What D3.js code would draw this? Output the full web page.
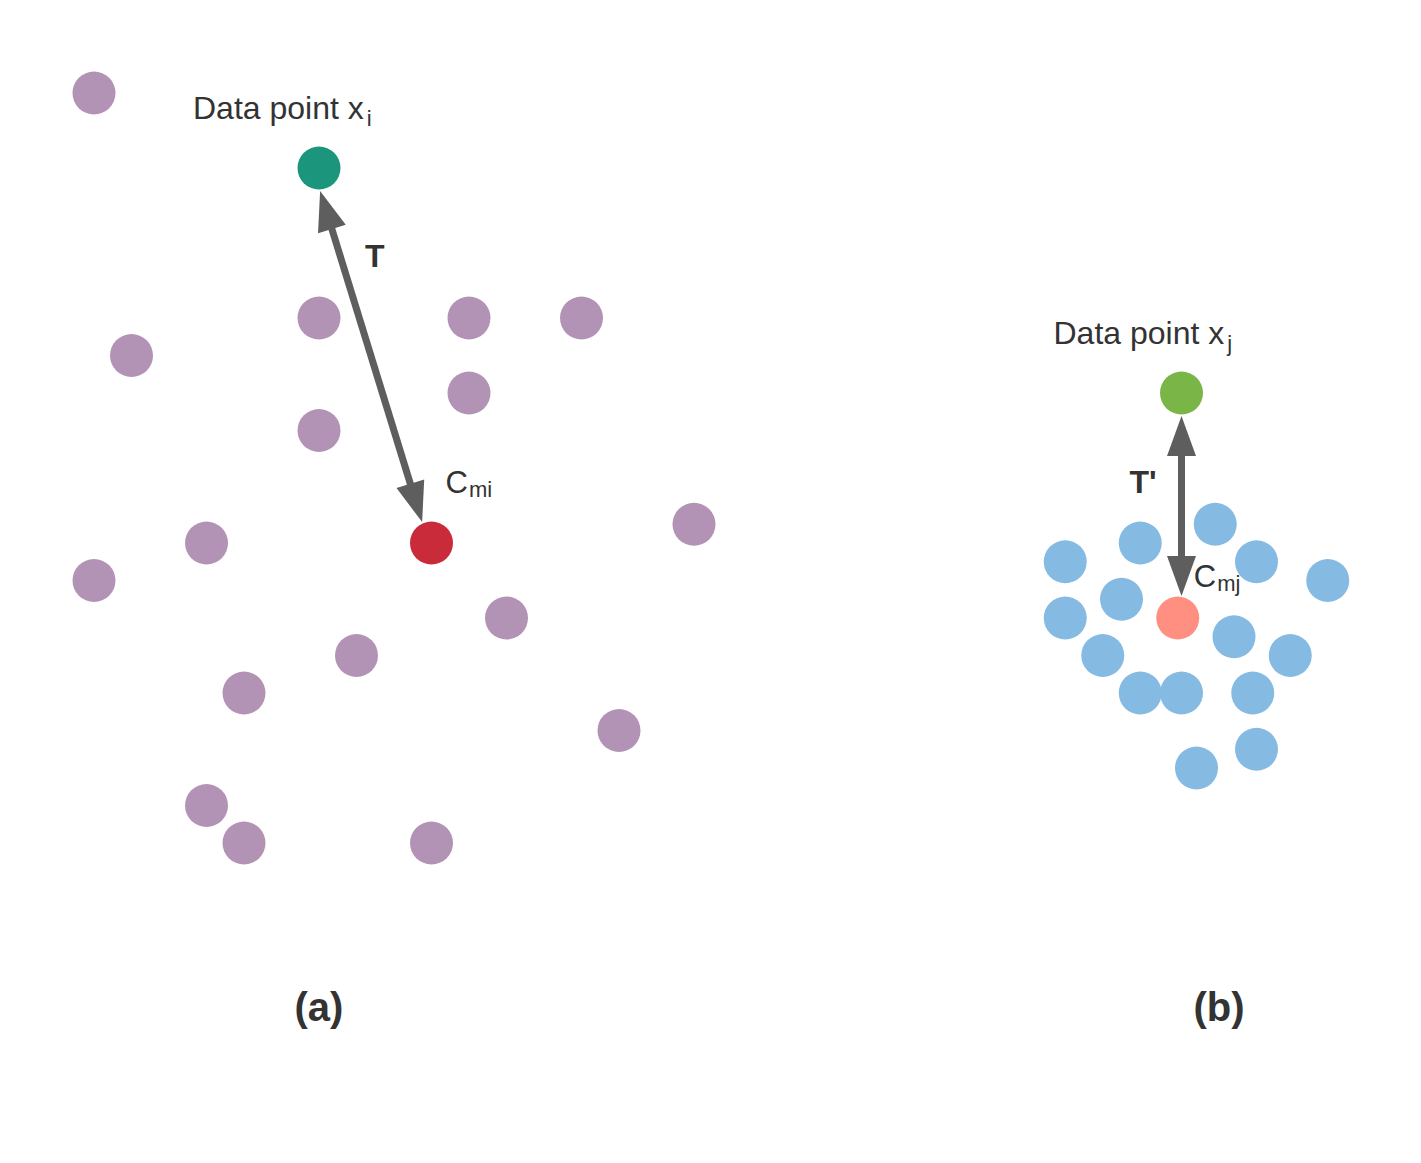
<!DOCTYPE html>
<html>
<head>
<meta charset="utf-8">
<script src="https://cdn.jsdelivr.net/npm/d3@7"></script>
<style>
  body{margin:0;background:#fff;}
  text{font-family:"Liberation Sans",Arial,sans-serif;fill:#333;}
</style>
</head>
<body>
<svg width="1421" height="1163"></svg>
<script>
const svg=d3.select('svg');
const width=+svg.attr('width');
const height=+svg.attr('height');

/* data, in grid units (one unit = spacing of the dot grid) */
// panel (a) : scattered cluster
const clusterAX=[0,1,6,10,13,10,6,3,0,16,11,7,4,14,3,4,9];
const clusterAY=[0,7,6,6,6,8,9,12,13,11.5,14,15,16,17,19,20,20];
const pointI=[6,2];      // data point x_i
const centreI=[9,12];    // C_mi
// panel (b) : tight cluster
const clusterBX=[29.9,27.9,25.9,31,32.9,27.4,25.9,30.4,26.9,31.9,27.9,29,30.9,31,29.4];
const clusterBY=[11.5,12,12.5,12.5,13,13.5,14,14.5,15,15,16,16,16,17.5,18];
const pointJ=[29,8];     // data point x_j
const centreJ=[28.9,14]; // C_mj
// arrow ends (tip positions)
const arrowT=[[6.03,2.61],[8.75,11.44]];
const arrowT2=[[29,8.61],[29,13.41]];
const panelLabels=['(a)','(b)'];
const panelX=[6,30];
const panelY=24.75;

const xScale=d3.scaleLinear().domain([0,36]).range([94,1444]);
const yScale=d3.scaleLinear().domain([0,30]).range([93,1218]);
const R=21.5;

const colors={
  a:'#b393b5', b:'#85bae2',
  pi:'#1b967c', ci:'#c92b3a',
  pj:'#7ab547', cj:'#ff8f80',
  arrow:'#5e5e5e'
};

/* dots */
const dots=(xs,ys,fill)=>svg.append('g')
  .selectAll('circle')
  .data(d3.zip(xs,ys))
  .join('circle')
    .attr('cx',d=>xScale(d[0]))
    .attr('cy',d=>yScale(d[1]))
    .attr('r',R)
    .attr('fill',fill);

dots(clusterAX,clusterAY,colors.a);
dots(clusterBX,clusterBY,colors.b);
dots([pointI[0]],[pointI[1]],colors.pi);
dots([centreI[0]],[centreI[1]],colors.ci);
dots([pointJ[0]],[pointJ[1]],colors.pj);
dots([centreJ[0]],[centreJ[1]],colors.cj);

/* double headed arrows */
const headLen=40, headHalf=14.5;
const arrow=(ends)=>{
  const [x1,y1]=[xScale(ends[0][0]),yScale(ends[0][1])];
  const [x2,y2]=[xScale(ends[1][0]),yScale(ends[1][1])];
  const L=Math.hypot(x2-x1,y2-y1);
  const ux=(x2-x1)/L, uy=(y2-y1)/L;
  const g=svg.append('g');
  g.append('line')
    .attr('x1',x1+ux*headLen*0.9).attr('y1',y1+uy*headLen*0.9)
    .attr('x2',x2-ux*headLen*0.9).attr('y2',y2-uy*headLen*0.9)
    .attr('stroke',colors.arrow).attr('stroke-width',7);
  const head=(tx,ty,dx,dy)=>{
    const bx=tx+dx*headLen, by=ty+dy*headLen;
    return [[tx,ty],[bx-dy*headHalf,by+dx*headHalf],[bx+dy*headHalf,by-dx*headHalf]];
  };
  g.selectAll('path')
    .data([head(x1,y1,ux,uy),head(x2,y2,-ux,-uy)])
    .join('path')
      .attr('d',d=>'M'+d.join('L')+'Z')
      .attr('fill',colors.arrow);
};
arrow(arrowT);
arrow(arrowT2);

/* labels */
const subLabel=(x,y,main,sub,size,subSize,shift,gap)=>{
  const t=svg.append('text')
    .attr('x',x).attr('y',y)
    .style('font-size',size+'px');
  t.append('tspan').text(main);
  t.append('tspan').attr('dx',gap).attr('dy',shift).style('font-size',subSize+'px').text(sub);
};
subLabel(xScale(pointI[0])-126,yScale(pointI[1])-49,'Data point x','i',32,22,7,3);
subLabel(xScale(pointJ[0])-128,yScale(pointJ[1])-49,'Data point x','j',32,22,7,3);
subLabel(xScale(centreI[0])+14,yScale(centreI[1])-50,'C','mi',31,22,4,1);
subLabel(xScale(centreJ[0])+16,yScale(centreJ[1])-31,'C','mj',31,22,4,1);

svg.append('text')
  .attr('x',xScale(pointI[0])+46).attr('y',yScale(pointI[1])+99)
  .style('font-size','32px').style('font-weight','bold')
  .text('T');
svg.append('text')
  .attr('x',xScale(pointJ[0])-52).attr('y',yScale(pointJ[1])+100)
  .style('font-size','32px').style('font-weight','bold')
  .text("T'");

svg.selectAll('text.panel')
  .data(panelLabels)
  .join('text')
    .attr('class','panel')
    .attr('x',(d,i)=>xScale(panelX[i]))
    .attr('y',yScale(panelY))
    .attr('text-anchor','middle')
    .style('font-size','40px').style('font-weight','bold')
    .text(d=>d);
</script>
</body>
</html>
